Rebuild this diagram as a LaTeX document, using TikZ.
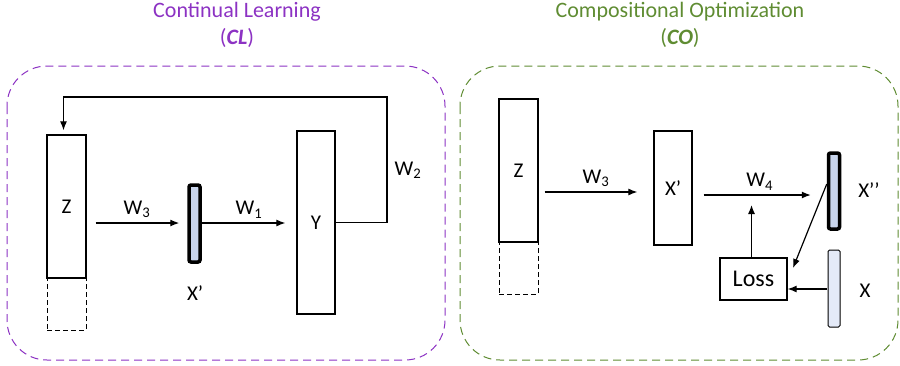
\documentclass[tikz,border=0pt]{standalone}
\usepackage{fontspec}
\setmainfont{Carlito}
\usepackage{tikz}
\usetikzlibrary{arrows,arrows.meta}
\usepackage{color}
\definecolor{clpurple}{RGB}{140,50,195}
\definecolor{cogreen}{RGB}{95,140,50}
\definecolor{barblue}{RGB}{200,212,236}
\definecolor{inblue}{RGB}{228,234,248}

\begin{document}
\begin{tikzpicture}[x=1pt,y=-1pt]
\tikzstyle{every node}=[font=\fontsize{21}{23}\selectfont];
\tikzstyle{layer}=[draw,line width=1.3pt,shape=rectangle,inner sep=0pt,minimum width=39pt];
\tikzstyle{ghost}=[layer,line width=1pt,dash pattern=on 5pt off 3pt];
\tikzstyle{bar}=[draw,line width=3.5pt,fill=barblue,rounded corners=2pt,inner sep=0pt,minimum width=11pt];
\tikzstyle{inbar}=[draw,line width=1pt,fill=inblue,rounded corners=1.5pt,inner sep=0pt,minimum width=12pt];
\tikzstyle{link}=[-{Latex[length=9pt,width=7pt]},line width=1.2pt];
\tikzstyle{region}=[dash pattern=on 8pt off 5pt,line width=1pt,rounded corners=40pt];
\useasboundingbox (0,0) rectangle (900,365);
% continual learning
\node [text=clpurple,font=\fontsize{22}{24}\selectfont](tcl) at (237,12) {Continual Learning};
\node [text=clpurple,font=\fontsize{22}{24}\selectfont](tcl2) at (237,38) {(\textbf{\textit{CL}})};
\draw [region,clpurple] (7,66) rectangle (445,360);
\node [layer,minimum height=143pt](z) at (66.5,206.5) {Z};
\node [ghost,minimum height=52pt](zd) at (66.5,304) {};
\node [bar,minimum height=77pt](xp) at (194.5,223.5) {};
\node (xpl) at (195,293) {X’};
\node [layer,minimum width=38pt,minimum height=183pt](y) at (316,222.5) {Y};
\coordinate (back) at (387,97);
\draw [link,shorten <=9pt,shorten >=8pt] (z.east |- 0,223) -- node[above=1pt]{W\textsubscript{3}} (xp.west |- 0,223);
\draw [link,shorten >=11pt] (xp.east |- 0,223) -- node[above=1pt]{W\textsubscript{1}} (y.west |- 0,223);
\draw [link,shorten >=4pt] (y.east) -| (back) -| ([xshift=-3pt]z.north);
\node (w2) at (408,170) {W\textsubscript{2}};
% compositional optimization
\node [text=cogreen,font=\fontsize{22}{24}\selectfont](tco) at (680,12) {Compositional Optimization};
\node [text=cogreen,font=\fontsize{22}{24}\selectfont](tco2) at (680,38) {(\textbf{\textit{CO}})};
\draw [region,cogreen] (460,66) rectangle (898,360);
\node [layer,minimum height=143pt](z2) at (518.5,170.5) {Z};
\node [ghost,minimum height=52pt](z2d) at (518.5,268) {};
\node [layer,minimum width=38pt,minimum height=114pt](xp2) at (673,188) {X’};
\node [bar,minimum height=76pt](xpp) at (834,191) {};
\node (xppl) at (869,190) {X’’};
\node [inbar,minimum height=77pt](x) at (834,288.5) {};
\node (xl) at (865,291) {X};
\node [layer,minimum width=67pt,minimum height=42pt,font=\fontsize{24}{26}\selectfont](loss) at (753.5,279) {Loss};
\draw [link,shorten <=6pt,shorten >=16pt] (z2.east |- 0,192) -- node[above=1pt]{W\textsubscript{3}} (xp2.west |- 0,192);
\draw [link,shorten <=11pt,shorten >=16pt] (xp2.east |- 0,195) -- node[above=1pt]{W\textsubscript{4}} (xpp.west |- 0,195);
\draw [link] ([xshift=-2pt]loss.north) -- ([xshift=-2pt]loss.north |- 0,205);
\draw [link] ([yshift=7pt]xpp.west) -- (793,268);
\draw [link,shorten <=1pt] (x.west |- 0,289) -- (loss.east |- 0,289);
\end{tikzpicture}
\end{document}
